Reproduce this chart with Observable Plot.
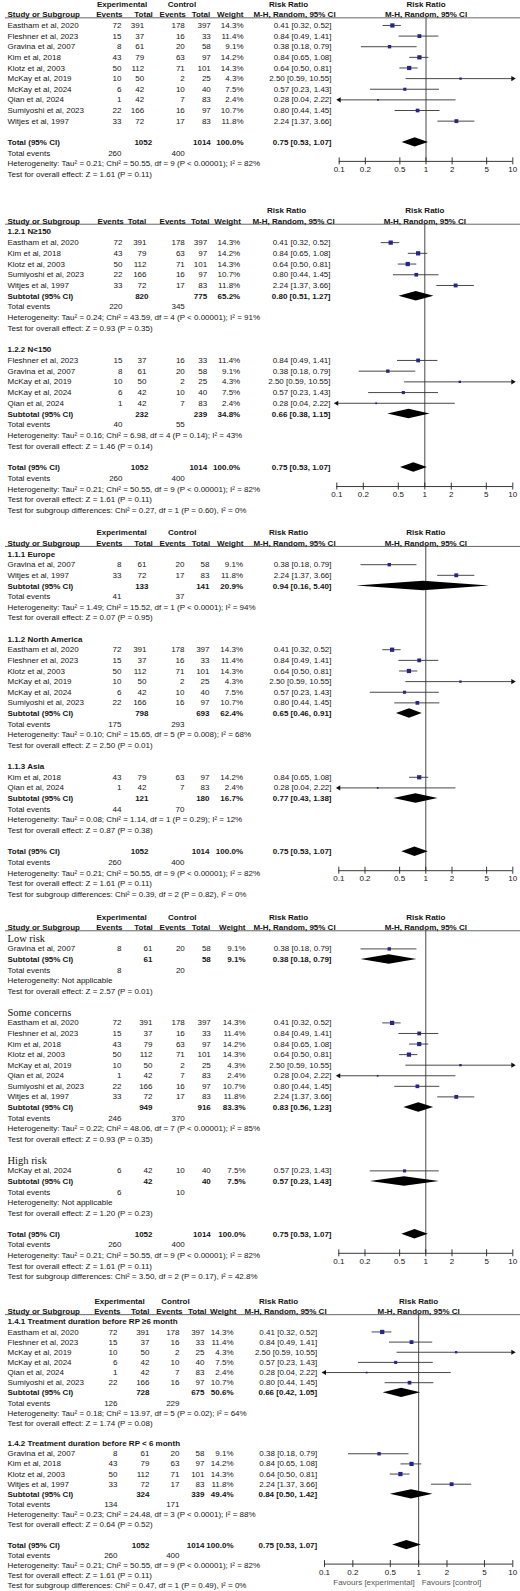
<!DOCTYPE html>
<html><head><meta charset="utf-8">
<script src="https://cdn.jsdelivr.net/npm/d3@7"></script>
<script src="https://cdn.jsdelivr.net/npm/@observablehq/plot@0.6"></script>
<style>
body{margin:0;background:#fff;}
#chart{width:520px;}
#chart svg{display:block;}
</style></head><body><div id="chart"></div>
<script>
// ---------- study data ----------
const studyNames = ["Eastham et al, 2020","Fleshner et al, 2023","Gravina et al, 2007","Kim et al, 2018","Klotz et al, 2003","McKay et al, 2019","McKay et al, 2024","Qian et al, 2024","Sumiyoshi et al, 2023","Witjes et al, 1997"];
const expEvents = [72,15,8,43,50,10,6,1,22,33];
const expTotal = [391,37,61,79,112,50,42,42,166,72];
const ctrlEvents = [178,16,20,63,71,2,10,7,16,17];
const ctrlTotal = [397,33,58,97,101,25,40,83,97,83];
const weights = [14.3,11.4,9.1,14.2,14.3,4.3,7.5,2.4,10.7,11.8];
const rr = [0.41,0.84,0.38,0.84,0.64,2.50,0.57,0.28,0.80,2.24];
const rrLo = [0.32,0.49,0.18,0.65,0.50,0.59,0.23,0.04,0.44,1.37];
const rrHi = [0.52,1.41,0.79,1.08,0.81,10.55,1.43,2.22,1.45,3.66];

// ---------- overall ----------
const overallTotals = [1052, 1014, 100.0];
const overallEffect = [0.75, 0.53, 1.07];
const overallEvents = [260, 400];
const overallHet = "Tau² = 0.21; Chi² = 50.55, df = 9 (P < 0.00001); I² = 82%";
const overallZ = "Z = 1.61 (P = 0.11)";

// ---------- subgroup: sample size ----------
const sizeNames = ["1.2.1 N≥150", "1.2.2 N<150"];
const sizeMembers = [[0,3,4,8,9],[1,2,5,6,7]];
const sizeTotals = [[820,775,65.2],[232,239,34.8]];
const sizeEffects = [[0.80,0.51,1.27],[0.66,0.38,1.15]];
const sizeEvents = [[220,345],[40,55]];
const sizeHet = ["Tau² = 0.24; Chi² = 43.59, df = 4 (P < 0.00001); I² = 91%","Tau² = 0.16; Chi² = 6.98, df = 4 (P = 0.14); I² = 43%"];
const sizeZ = ["Z = 0.93 (P = 0.35)","Z = 1.46 (P = 0.14)"];
const sizeDiff = "Chi² = 0.27, df = 1 (P = 0.60), I² = 0%";

// ---------- subgroup: region ----------
const regionNames = ["1.1.1 Europe","1.1.2 North America","1.1.3 Asia"];
const regionMembers = [[2,9],[0,1,4,5,6,8],[3,7]];
const regionTotals = [[133,141,20.9],[798,693,62.4],[121,180,16.7]];
const regionEffects = [[0.94,0.16,5.40],[0.65,0.46,0.91],[0.77,0.43,1.38]];
const regionEvents = [[41,37],[175,293],[44,70]];
const regionHet = ["Tau² = 1.49; Chi² = 15.52, df = 1 (P < 0.0001); I² = 94%","Tau² = 0.10; Chi² = 15.65, df = 5 (P = 0.008); I² = 68%","Tau² = 0.08; Chi² = 1.14, df = 1 (P = 0.29); I² = 12%"];
const regionZ = ["Z = 0.07 (P = 0.95)","Z = 2.50 (P = 0.01)","Z = 0.87 (P = 0.38)"];
const regionDiff = "Chi² = 0.39, df = 2 (P = 0.82), I² = 0%";

// ---------- subgroup: risk of bias ----------
const biasNames = ["Low risk","Some concerns","High risk"];
const biasMembers = [[2],[0,1,3,4,5,7,8,9],[6]];
const biasTotals = [[61,58,9.1],[949,916,83.3],[42,40,7.5]];
const biasEffects = [[0.38,0.18,0.79],[0.83,0.56,1.23],[0.57,0.23,1.43]];
const biasEvents = [[8,20],[246,370],[6,10]];
const biasHet = ["Not applicable","Tau² = 0.22; Chi² = 48.06, df = 7 (P < 0.00001); I² = 85%","Not applicable"];
const biasZ = ["Z = 2.57 (P = 0.01)","Z = 0.93 (P = 0.35)","Z = 1.20 (P = 0.23)"];
const biasDiff = "Chi² = 3.50, df = 2 (P = 0.17), I² = 42.8%";

// ---------- subgroup: treatment duration ----------
const durNames = ["1.4.1 Treatment duration before RP ≥6 month","1.4.2 Treatment duration before RP < 6 month"];
const durMembers = [[0,1,5,6,7,8],[2,3,4,9]];
const durTotals = [[728,675,50.6],[324,339,49.4]];
const durEffects = [[0.66,0.42,1.05],[0.84,0.50,1.42]];
const durEvents = [[126,229],[134,171]];
const durHet = ["Tau² = 0.18; Chi² = 13.97, df = 5 (P = 0.02); I² = 64%","Tau² = 0.23; Chi² = 24.48, df = 3 (P < 0.0001); I² = 88%"];
const durZ = ["Z = 1.74 (P = 0.08)","Z = 0.64 (P = 0.52)"];
const durDiff = "Chi² = 0.47, df = 1 (P = 0.49), I² = 0%";

// ---------- axis ----------
const axisTicks = [0.1,0.2,0.5,1,2,5,10];
const axisLabels = ["0.1","0.2","0.5","1","2","5","10"];
const favours = ["Favours [experimental]","Favours [control]"];

// ---------- rendering ----------
const FONT = "'Liberation Sans', Arial, Helvetica, sans-serif";
const SERIF = "'Liberation Serif', 'Times New Roman', serif";
const INK = "#161616";
const BOX = "#25258c";
const fmt2 = v => v.toFixed(2);
const ciText = (e) => `${fmt2(e[0])} [${fmt2(e[1])}, ${fmt2(e[2])}]`;
const pct = w => w.toFixed(1) + "%";

function makeGroups(names, members, totals, effects, events, het, z) {
  return names.map((name, k) => ({name, members: members[k], totals: totals[k], effect: effects[k], events: events[k], het: het[k], z: z[k]}));
}

function renderPanel(c, groups, diff) {
  const T = [], S = [], D = [];
  const add = (idx, text, px, anchor, bold, serif) => T.push({idx, text: String(text), px, anchor: anchor || "start", bold: !!bold, serif: !!serif});
  if (c.topLabels) {
    add(0, "Experimental", c.expC, "middle", true);
    add(0, "Control", c.ctrlC, "middle", true);
  }
  add(0, "Risk Ratio", c.rrC, "middle", true);
  add(1, "Study or Subgroup", c.label, "start", true);
  add(1, "Events", c.evH, "end", true);
  add(1, "Total", c.totH, "end", true);
  add(1, "Events", c.cevH, "end", true);
  add(1, "Total", c.ctotH, "end", true);
  add(1, "Weight", c.wH, "end", true);
  add(1, "M-H, Random, 95% CI", c.mhC, "middle", true);
  let i = 2;
  const study = s => {
    add(i, studyNames[s], c.label);
    add(i, expEvents[s], c.ev, "end");
    add(i, expTotal[s], c.tot, "end");
    add(i, ctrlEvents[s], c.cev, "end");
    add(i, ctrlTotal[s], c.ctot, "end");
    add(i, pct(weights[s]), c.w, "end");
    add(i, ciText([rr[s], rrLo[s], rrHi[s]]), c.est, "end");
    S.push({idx: i, rr: rr[s], lo: rrLo[s], hi: rrHi[s], w: weights[s]});
    i++;
  };
  const summary = (label, totals, eff, events, het, z) => {
    add(i, label, c.label, "start", true);
    add(i, totals[0], c.totS, "end", true);
    add(i, totals[1], c.ctot, "end", true);
    add(i, pct(totals[2]), c.w, "end", true);
    add(i, ciText(eff), c.est, "end", true);
    D.push({idx: i, rr: eff[0], lo: eff[1], hi: eff[2]});
    i++;
    add(i, "Total events", c.label); add(i, events[0], c.ev, "end"); add(i, events[1], c.cev, "end"); i++;
    add(i, "Heterogeneity: " + het, c.label); i++;
    add(i, "Test for overall effect: " + z, c.label); i++;
  };
  if (!groups) { studyNames.forEach((_, s) => study(s)); i++; }
  else groups.forEach(g => {
    add(i, g.name, c.label, "start", !c.serifHeads, c.serifHeads); i++;
    g.members.forEach(study);
    summary("Subtotal (95% CI)", g.totals, g.effect, g.events, g.het, g.z);
    i++;
  });
  const totalIdx = i;
  summary("Total (95% CI)", overallTotals, overallEffect, overallEvents, overallHet, overallZ);
  if (diff) add(i, "Test for subgroup differences: " + diff, c.label);

  const textMarks = d3.groups(T, d => `${d.px}|${d.anchor}|${d.bold}|${d.serif}`).map(([, items]) => {
    const d0 = items[0];
    return Plot.text(items, {y: "idx", text: "text", frameAnchor: "left", dx: d0.px, textAnchor: d0.anchor,
      fontWeight: d0.bold ? "bold" : "normal", fontFamily: d0.serif ? SERIF : FONT, fontSize: d0.serif ? 10.5 : 8, fill: INK});
  });

  const h = 4.7 / c.rowH;
  const diamondPts = D.flatMap((d, k) => [
    {id: k, x: d.lo, y1: d.idx, y2: d.idx},
    {id: k, x: d.rr, y1: d.idx - h, y2: d.idx + h},
    {id: k, x: d.hi, y1: d.idx, y2: d.idx}
  ]);
  const axisOff = 19;
  const tickData = axisTicks.map((t, k) => ({t, label: axisLabels[k], idx: totalIdx}));

  const marks = [
    Plot.ruleY([1], {dy: 3, insetLeft: 5, stroke: "#555", strokeWidth: 0.9}),
    Plot.ruleX([{x: 1, y1: 1, y2: totalIdx}], {x: "x", y1: "y1", y2: "y2", insetTop: 3, insetBottom: -axisOff, stroke: "#333", strokeWidth: 0.9}),
    Plot.text([{x: 1, idx: 0, t: "Risk Ratio"}, {x: 1, idx: 1, t: "M-H, Random, 95% CI"}], {x: "x", y: "idx", text: "t", fontWeight: "bold", fontSize: 8, fontFamily: FONT, fill: INK}),
    Plot.ruleY(S, {y: "idx", x1: d => Math.max(d.lo, 0.1), x2: d => Math.min(d.hi, 10), stroke: "#333", strokeWidth: 0.9}),
    Plot.dot(S.filter(d => d.hi > 10), {x: () => 10, y: "idx", symbol: "triangle", rotate: 90, r: 1.9, fill: "#111", stroke: "none"}),
    Plot.dot(S.filter(d => d.lo < 0.1), {x: () => 0.1, y: "idx", symbol: "triangle", rotate: -90, r: 1.9, fill: "#111", stroke: "none"}),
    Plot.dot(S, {x: "rr", y: "idx", r: "w", symbol: "square", fill: BOX, stroke: "none"}),
    Plot.areaY(diamondPts, {x: "x", y1: "y1", y2: "y2", z: "id", fill: "#000", curve: "linear"}),
    Plot.ruleY([totalIdx], {x1: 0.1, x2: 10, dy: axisOff, stroke: "#222", strokeWidth: 0.9}),
    Plot.ruleX(tickData, {x: "t", y1: "idx", y2: "idx", insetTop: -3.5, insetBottom: -3.5, dy: axisOff, stroke: "#222", strokeWidth: 0.9}),
    Plot.text(tickData, {x: "t", y: "idx", text: "label", dy: axisOff + 8, fontSize: 8, fontFamily: FONT, fill: INK}),
    ...textMarks
  ];
  if (c.favours) {
    marks.push(Plot.text([{x: 1, idx: totalIdx, t: favours[0]}], {x: "x", y: "idx", text: "t", dy: axisOff + 18, dx: -4, textAnchor: "end", fontSize: 8, fontFamily: FONT, fill: "#555"}));
    marks.push(Plot.text([{x: 1, idx: totalIdx, t: favours[1]}], {x: "x", y: "idx", text: "t", dy: axisOff + 18, dx: 3, textAnchor: "start", fontSize: 8, fontFamily: FONT, fill: "#555"}));
  }

  return Plot.plot({
    width: 520, height: c.height,
    marginTop: 0, marginRight: 0, marginBottom: 0, marginLeft: 0,
    x: {type: "log", domain: [0.1, 10], range: c.range, axis: null},
    y: {domain: [0, 1], range: [c.y0, c.y0 + c.rowH], axis: null},
    r: {type: "sqrt", domain: [0, 14.3], range: [0, 2.4]},
    style: {fontFamily: FONT, fontSize: "8px", background: "#fff", color: INK},
    marks
  });
}

const base = {label: 7, ev: 121, tot: 143.7, totS: 151.7, cev: 184.3, ctot: 210.3, w: 243, est: 331,
  evH: 122, totH: 152.3, cevH: 185.3, ctotH: 209.7, wH: 243, expC: 121.5, ctrlC: 181.5, rrC: 288, mhC: 294, topLabels: true};

const panels = [
  [Object.assign({}, base, {range: [338.7, 512.3], y0: 3.7, rowH: 10.63, height: 182}), null, null],
  [Object.assign({}, base, {ev: 122, tot: 146, totS: 148, cev: 184.3, ctot: 206.7, w: 239.7, est: 330,
     evH: 123.3, totH: 145.7, cevH: 185.3, ctotH: 209, wH: 240.3, rrC: 286, mhC: 293, topLabels: false,
     range: [336.3, 512.3], y0: 28, rowH: 10.71, height: 333}),
   makeGroups(sizeNames, sizeMembers, sizeTotals, sizeEffects, sizeEvents, sizeHet, sizeZ), sizeDiff],
  [Object.assign({}, base, {tot: 146, totS: 148, cev: 184, ctot: 209, w: 242.5, expC: 121, ctrlC: 181.7,
     range: [338.3, 512.3], y0: 17.3, rowH: 10.63, height: 385}),
   makeGroups(regionNames, regionMembers, regionTotals, regionEffects, regionEvents, regionHet, regionZ), regionDiff],
  [Object.assign({}, base, {tot: 152, totS: 152, w: 245, wH: 245, expC: 121, ctrlC: 181.8, serifHeads: true,
     range: [338.3, 512.3], y0: 16.7, rowH: 10.57, height: 384}),
   makeGroups(biasNames, biasMembers, biasTotals, biasEffects, biasEvents, biasHet, biasZ), biasDiff],
  [Object.assign({}, base, {ev: 117, tot: 149, totS: 149, cev: 179, ctot: 204, w: 233, est: 316.7,
     evH: 120, totH: 149, cevH: 182, ctotH: 206, wH: 236, expC: 119, ctrlC: 175, rrC: 278, mhC: 285, favours: true,
     range: [324, 512.3], y0: 17, rowH: 10.15, height: 307}),
   makeGroups(durNames, durMembers, durTotals, durEffects, durEvents, durHet, durZ), durDiff]
];

const root = document.getElementById("chart");
panels.forEach(([cfg, groups, diff]) => root.appendChild(renderPanel(cfg, groups, diff)));
</script>
</body></html>
